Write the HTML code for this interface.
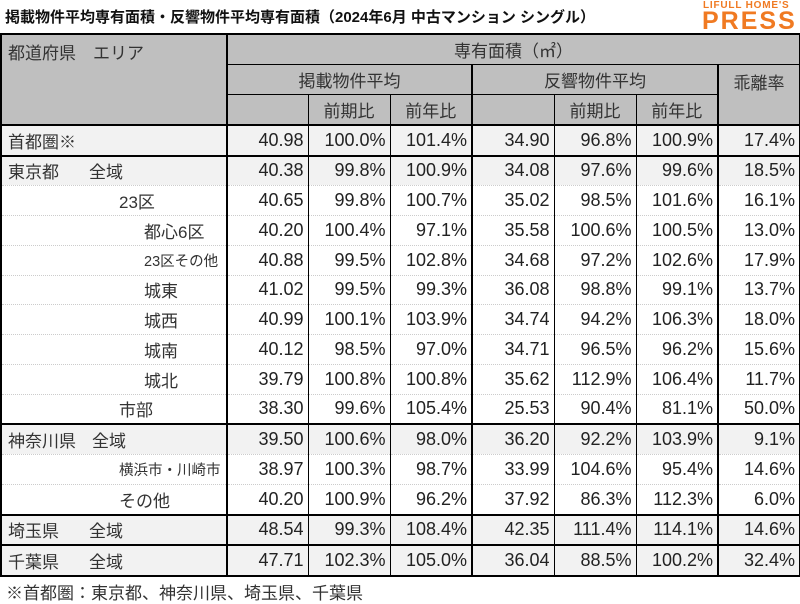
<!DOCTYPE html>
<html><head><meta charset="utf-8"><style>
body{margin:0;width:800px;height:600px;background:#fff;font-family:"Liberation Sans","Noto Sans CJK JP",sans-serif;color:#222;position:relative;overflow:hidden}
.title{position:absolute;left:5px;top:6px;font-size:15px;font-weight:bold;letter-spacing:0px;color:#111}
.logo1{position:absolute;left:703px;top:0px;font-size:10px;font-weight:bold;color:#f07a22;letter-spacing:0.8px}
.logo2{position:absolute;left:702px;top:8px;font-size:25px;font-weight:900;color:#f07a22;letter-spacing:2px;line-height:26px}
table{position:absolute;left:0;top:33px;border-collapse:collapse;table-layout:fixed;width:799px;border:2px solid #000}
td{border-left:1px solid #000;border-right:1px solid #000;padding:0;height:28.75px;font-size:18px;text-align:right;padding-right:4px;white-space:nowrap;overflow:hidden;border-top:1px dotted #ccc;border-bottom:1px dotted #ccc}
.h td{background:#bfbfbf;text-align:center;font-size:17px;padding:0;border:1px solid #000;color:#333}
tr.g td{background:#f2f2f2}
tr.tk td{border-top:2px solid #000}
td.l{text-align:left;font-size:17px;padding-left:6px;border-right:2px solid #000;color:#333}
td.tkr{border-right:2px solid #000}
.s{font-size:14.5px}
.foot{position:absolute;left:6px;top:579px;font-size:17px;color:#333}
</style></head><body>
<div class="title">掲載物件平均専有面積・反響物件平均専有面積（2024年6月 中古マンション シングル）</div>
<div class="logo1">LIFULL HOME'S</div>
<div class="logo2">PRESS</div>
<table>
<colgroup><col style="width:226px"><col style="width:81px"><col style="width:82px"><col style="width:82px"><col style="width:82px"><col style="width:82px"><col style="width:82px"><col style="width:82px"></colgroup>
<tr class="h"><td rowspan="3" style="text-align:left;vertical-align:top;padding:4px 6px;border-right:2px solid #000">都道府県　エリア</td><td colspan="7" style="height:29px">専有面積（㎡）</td></tr>
<tr class="h"><td colspan="3" style="height:29px;border-right:2px solid #000">掲載物件平均</td><td colspan="3" style="border-right:2px solid #000">反響物件平均</td><td rowspan="2" style="vertical-align:top;padding-top:4px">乖離率</td></tr>
<tr class="h"><td style="border-top:none;height:27px"></td><td>前期比</td><td style="border-right:2px solid #000">前年比</td><td style="border-top:none"></td><td>前期比</td><td style="border-right:2px solid #000">前年比</td></tr>
<tr class="g tk"><td class="l">首都圏※</td><td>40.98</td><td>100.0%</td><td class="tkr">101.4%</td><td>34.90</td><td>96.8%</td><td class="tkr">100.9%</td><td>17.4%</td></tr>
<tr class="g tk"><td class="l">東京都<span style="padding-left:30px">全域</span></td><td>40.38</td><td>99.8%</td><td class="tkr">100.9%</td><td>34.08</td><td>97.6%</td><td class="tkr">99.6%</td><td>18.5%</td></tr>
<tr><td class="l" style="padding-left:117px">23区</td><td>40.65</td><td>99.8%</td><td class="tkr">100.7%</td><td>35.02</td><td>98.5%</td><td class="tkr">101.6%</td><td>16.1%</td></tr>
<tr><td class="l" style="padding-left:142px">都心6区</td><td>40.20</td><td>100.4%</td><td class="tkr">97.1%</td><td>35.58</td><td>100.6%</td><td class="tkr">100.5%</td><td>13.0%</td></tr>
<tr><td class="l" style="padding-left:142px"><span class="s">23区その他</span></td><td>40.88</td><td>99.5%</td><td class="tkr">102.8%</td><td>34.68</td><td>97.2%</td><td class="tkr">102.6%</td><td>17.9%</td></tr>
<tr><td class="l" style="padding-left:142px">城東</td><td>41.02</td><td>99.5%</td><td class="tkr">99.3%</td><td>36.08</td><td>98.8%</td><td class="tkr">99.1%</td><td>13.7%</td></tr>
<tr><td class="l" style="padding-left:142px">城西</td><td>40.99</td><td>100.1%</td><td class="tkr">103.9%</td><td>34.74</td><td>94.2%</td><td class="tkr">106.3%</td><td>18.0%</td></tr>
<tr><td class="l" style="padding-left:142px">城南</td><td>40.12</td><td>98.5%</td><td class="tkr">97.0%</td><td>34.71</td><td>96.5%</td><td class="tkr">96.2%</td><td>15.6%</td></tr>
<tr><td class="l" style="padding-left:142px">城北</td><td>39.79</td><td>100.8%</td><td class="tkr">100.8%</td><td>35.62</td><td>112.9%</td><td class="tkr">106.4%</td><td>11.7%</td></tr>
<tr><td class="l" style="padding-left:117px">市部</td><td>38.30</td><td>99.6%</td><td class="tkr">105.4%</td><td>25.53</td><td>90.4%</td><td class="tkr">81.1%</td><td>50.0%</td></tr>
<tr class="g tk"><td class="l">神奈川県<span style="padding-left:16px">全域</span></td><td>39.50</td><td>100.6%</td><td class="tkr">98.0%</td><td>36.20</td><td>92.2%</td><td class="tkr">103.9%</td><td>9.1%</td></tr>
<tr><td class="l" style="padding-left:117px"><span class="s">横浜市・川崎市</span></td><td>38.97</td><td>100.3%</td><td class="tkr">98.7%</td><td>33.99</td><td>104.6%</td><td class="tkr">95.4%</td><td>14.6%</td></tr>
<tr><td class="l" style="padding-left:117px">その他</td><td>40.20</td><td>100.9%</td><td class="tkr">96.2%</td><td>37.92</td><td>86.3%</td><td class="tkr">112.3%</td><td>6.0%</td></tr>
<tr class="g tk"><td class="l">埼玉県<span style="padding-left:30px">全域</span></td><td>48.54</td><td>99.3%</td><td class="tkr">108.4%</td><td>42.35</td><td>111.4%</td><td class="tkr">114.1%</td><td>14.6%</td></tr>
<tr class="g tk"><td class="l">千葉県<span style="padding-left:30px">全域</span></td><td>47.71</td><td>102.3%</td><td class="tkr">105.0%</td><td>36.04</td><td>88.5%</td><td class="tkr">100.2%</td><td>32.4%</td></tr>
</table>
<div class="foot">※首都圏：東京都、神奈川県、埼玉県、千葉県</div>
</body></html>
